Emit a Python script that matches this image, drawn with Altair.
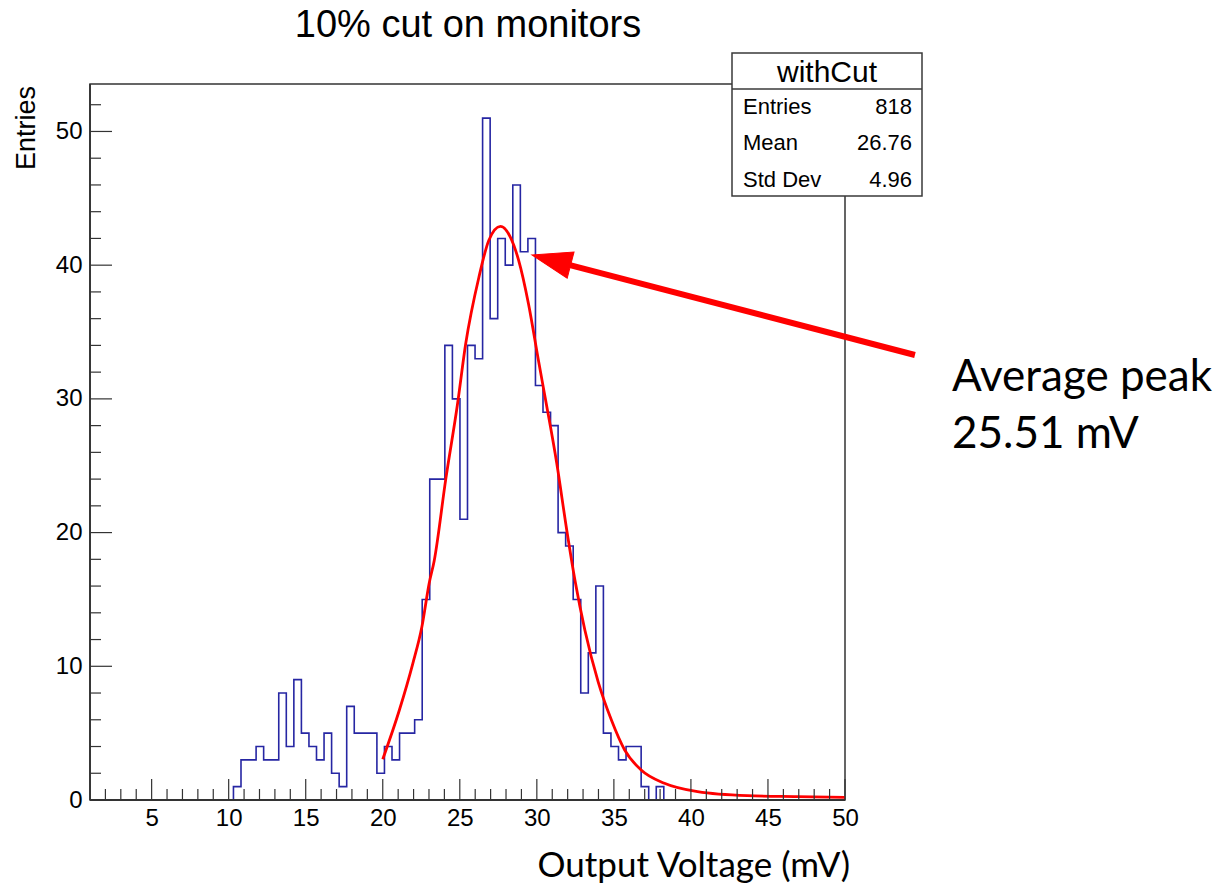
import altair as alt
import pandas as pd

# ---------------- data ----------------
x_lo, x_hi, n_bins = 1.0, 50.0, 100
counts = ([0] * 19 +
          [1, 3, 3, 4, 3, 3, 8, 4, 9, 5,
           4, 3, 5, 2, 1, 7, 5, 5, 5, 2,
           4, 3, 5, 5, 6, 15, 24, 24, 34, 30,
           21, 34, 33, 51, 36, 42, 40, 46, 41, 42,
           31, 29, 28, 20, 19, 15, 8, 11, 16, 5,
           4, 3, 4, 4, 1, 0, 1] +
          [0] * 24)

fit_x = [20.0, 21.08, 21.95, 22.54, 23.01, 23.34, 24.09, 24.85, 25.38, 26.24,
         26.88, 27.64, 28.28, 28.82, 29.46, 30.1, 30.54, 31.29, 31.94, 32.48,
         33.12, 33.98, 34.84, 35.7, 36.77, 38.28, 40.43, 43.66, 46.9, 50.0]
fit_y = [3.05, 6.73, 10.2, 12.95, 16.2, 17.9, 24.0, 29.6, 34.1, 39.1,
         41.85, 42.9, 42.1, 40.36, 37.1, 32.9, 30.1, 25.2, 20.2, 16.4,
         12.7, 8.84, 5.98, 3.74, 2.24, 1.25, 0.62, 0.32, 0.25, 0.19]

x_major = [5, 10, 15, 20, 25, 30, 35, 40, 45, 50]
x_minor = [v for v in range(2, 50) if v % 5 != 0]
y_major = [0, 10, 20, 30, 40, 50]
y_minor = [v for v in range(2, 53, 2) if v % 10 != 0]
y_max = 53.55

stat_names = ["Entries", "Mean", "Std Dev"]
stat_values = ["818", "26.76", "4.96"]

arrow_tip = (29.68, 40.76)
arrow_base = (32.15, 40.0)
arrow_tail = (54.54, 33.28)

title_text = "10% cut on monitors"
x_title = "Output Voltage (mV)"
y_title = "Entries"
note_lines = ["Average peak", "25.51 mV"]

# ---------------- layout ----------------
W, H = 755, 716
PAD_L, PAD_T = 90, 84

edges = [x_lo + i * (x_hi - x_lo) / n_bins for i in range(n_bins)] + [x_hi]
hist_df = pd.DataFrame({"x": edges, "y": counts + [counts[-1]]})
fit_df = pd.DataFrame({"x": fit_x, "y": fit_y})

xs = alt.Scale(domain=[x_lo, x_hi], nice=False, zero=False)
ys = alt.Scale(domain=[0, y_max], nice=False, zero=True)

label_font = "Liberation Sans"

x_axis = alt.Axis(
    values=x_major, ticks=False, tickSize=0, domain=False, grid=False,
    labelFont=label_font, labelFontSize=24, labelColor="black",
    labelPadding=6, labelFlush=False, labelOverlap=False, title=None, format="d")
y_axis = alt.Axis(
    values=y_major, ticks=False, tickSize=0, domain=False, grid=False,
    labelFont=label_font, labelFontSize=24, labelColor="black",
    labelPadding=8, labelFlush=False, labelOverlap=False, title=None, format="d")


def X(field):
    return alt.X(field, scale=xs, axis=x_axis)


def Y(field):
    return alt.Y(field, scale=ys, axis=y_axis)


hist = alt.Chart(hist_df).mark_line(
    interpolate="step-after", color="#2626a3", strokeWidth=1.6
).encode(x=X("x:Q"), y=Y("y:Q"))

fit = alt.Chart(fit_df).mark_line(
    interpolate="monotone", color="#ff0000", strokeWidth=2.8
).encode(x=X("x:Q"), y=Y("y:Q"))


def xticks(vals, length):
    return alt.Chart(pd.DataFrame({"x": vals})).mark_rule(
        color="#333333", strokeWidth=1.2
    ).encode(x=X("x:Q"), y=alt.value(H), y2=alt.value(H - length))


def yticks(vals, length):
    return alt.Chart(pd.DataFrame({"y": vals})).mark_rule(
        color="#333333", strokeWidth=1.2
    ).encode(y=Y("y:Q"), x=alt.value(0), x2=alt.value(length))


arrow_df = pd.DataFrame({"x": [arrow_tail[0]], "y": [arrow_tail[1]],
                         "x1": [arrow_base[0]], "y1": [arrow_base[1]],
                         "xt": [arrow_tip[0]], "yt": [arrow_tip[1]]})
shaft = alt.Chart(arrow_df).mark_rule(color="#ff0000", strokeWidth=6).encode(
    x=X("x:Q"), y=Y("y:Q"), x2="x1:Q", y2="y1:Q",
)
head = alt.Chart(arrow_df).mark_point(
    shape="M0,0 L1,-0.34 L1,0.34 Z", filled=True, fill="#ff0000",
    stroke="#ff0000", strokeWidth=1, opacity=1, size=6400, angle=14.6
).encode(x=X("xt:Q"), y=Y("yt:Q"))


def blank():
    return alt.Chart(pd.DataFrame({"d": [0]}))


def text(t, x, y, size, font=label_font, align="center", baseline="middle", angle=0, color="black"):
    kw = dict(text=t, font=font, fontSize=size, align=align, baseline=baseline, color=color)
    if angle:
        kw["angle"] = angle
    return blank().mark_text(**kw).encode(x=alt.value(x), y=alt.value(y))


# axis lines drawn over the histogram (ROOT draws the frame on top)
bottom_line = blank().mark_rule(color="#333333", strokeWidth=1.8).encode(
    x=alt.value(0), x2=alt.value(W), y=alt.value(H))
left_line = blank().mark_rule(color="#333333", strokeWidth=1.8).encode(
    x=alt.value(0), y=alt.value(0), y2=alt.value(H))

# stats box (pixel placement relative to plot origin)
bx0, bx1, by0, by1, bdiv = 732 - PAD_L, 922 - PAD_L, 53 - PAD_T, 196 - PAD_T, 89 - PAD_T
box = blank().mark_rect(fill="white", stroke="#3a3a3a", strokeWidth=1.5).encode(
    x=alt.value(bx0), x2=alt.value(bx1), y=alt.value(by0), y2=alt.value(by1))
divider = blank().mark_rule(color="#3a3a3a", strokeWidth=1.5).encode(
    x=alt.value(bx0), x2=alt.value(bx1), y=alt.value(bdiv))

layers = [hist, fit, bottom_line, left_line,
          xticks(x_minor, 11), xticks(x_major, 21),
          yticks(y_minor, 11), yticks(y_major, 22),
          shaft, head, box, divider,
          text("withCut", (bx0 + bx1) / 2, 73 - PAD_T, 30)]
row_y = [107, 143, 180]
for name, val, ry in zip(stat_names, stat_values, row_y):
    layers.append(text(name, 743 - PAD_L, ry - PAD_T, 22, align="left"))
    layers.append(text(val, 912 - PAD_L, ry - PAD_T, 22, align="right"))

layers += [
    text(title_text, 468 - PAD_L, 26 - PAD_T, 38),
    text(y_title, 27 - PAD_L, 86 - PAD_T, 27, align="right", angle=270),
    text(x_title, 850 - PAD_L, 866 - PAD_T, 35, font="Lato", align="right"),
    text(note_lines[0], 952 - PAD_L, 378 - PAD_T, 44, font="Lato", align="left"),
    text(note_lines[1], 952 - PAD_L, 435 - PAD_T, 44, font="Lato", align="left"),
]

chart = alt.layer(*layers).properties(
    width=W, height=H,
    autosize=alt.AutoSizeParams(type="none"),
    padding={"left": PAD_L, "top": PAD_T, "right": 1219 - PAD_L - W, "bottom": 884 - PAD_T - H},
    background="white",
).configure_view(stroke="#333333", strokeWidth=1.5)

chart.save("out.html", embed_options={"renderer": "svg", "actions": False})
